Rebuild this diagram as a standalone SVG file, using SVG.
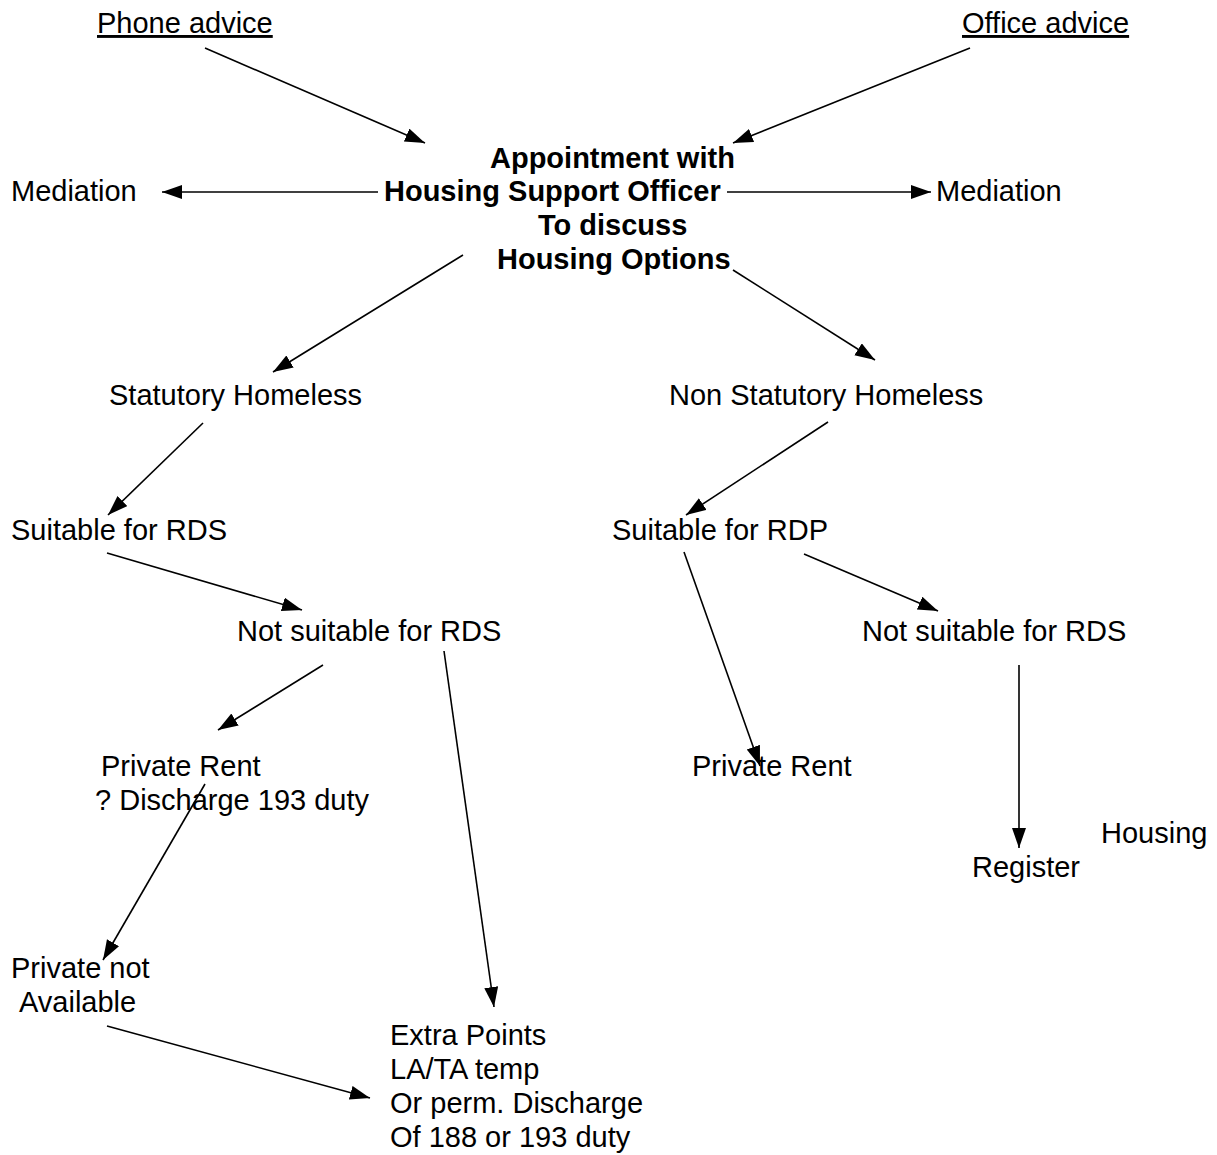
<svg xmlns="http://www.w3.org/2000/svg" width="1217" height="1155" viewBox="0 0 1217 1155">
<defs>
<marker id="ah" markerUnits="userSpaceOnUse" markerWidth="22" markerHeight="16" refX="20" refY="7" orient="auto">
<path d="M0,0 L20,7 L0,14 z" fill="#000"/>
</marker>
<style>
text{font-family:"Liberation Sans",Arial,sans-serif;font-size:29px;fill:#000}
.b{font-weight:bold}
.u{text-decoration:underline}
#connectors line{stroke:#000;stroke-width:1.6;marker-end:url(#ah)}
</style>
</defs>
<rect width="1217" height="1155" fill="#fff"/>
<g id="connectors">
<line x1="205" y1="48" x2="425" y2="143"/>
<line x1="970" y1="48" x2="733" y2="143"/>
<line x1="378" y1="192" x2="162" y2="192"/>
<line x1="727" y1="192" x2="931" y2="192"/>
<line x1="463" y1="255" x2="273" y2="372"/>
<line x1="733" y1="270" x2="875" y2="360"/>
<line x1="203" y1="423" x2="108" y2="515"/>
<line x1="828" y1="422" x2="686" y2="515"/>
<line x1="107" y1="553" x2="302" y2="610"/>
<line x1="804" y1="554" x2="938" y2="611"/>
<line x1="323" y1="665" x2="218" y2="730"/>
<line x1="444" y1="651" x2="494" y2="1007"/>
<line x1="684" y1="552" x2="760" y2="766"/>
<line x1="1019" y1="665" x2="1019" y2="848"/>
<line x1="205" y1="784" x2="103" y2="960"/>
<line x1="107" y1="1026" x2="370" y2="1098"/>
</g>
<g id="phone"><text class="u" x="97" y="33">Phone advice</text></g>
<g id="office"><text class="u" x="962" y="33">Office advice</text></g>
<g id="appointment">
<text class="b" x="490" y="168">Appointment with</text>
<text class="b" x="384" y="201">Housing Support Officer</text>
<text class="b" x="538" y="235">To discuss</text>
<text class="b" x="497" y="269">Housing Options</text>
</g>
<g id="mediation-left"><text x="11" y="201">Mediation</text></g>
<g id="mediation-right"><text x="936" y="201">Mediation</text></g>
<g id="statutory"><text x="109" y="405">Statutory Homeless</text></g>
<g id="non-statutory"><text x="669" y="405">Non Statutory Homeless</text></g>
<g id="suitable-rds"><text x="11" y="540">Suitable for RDS</text></g>
<g id="suitable-rdp"><text x="612" y="540">Suitable for RDP</text></g>
<g id="not-suitable-left"><text x="237" y="641">Not suitable for RDS</text></g>
<g id="not-suitable-right"><text x="862" y="641">Not suitable for RDS</text></g>
<g id="private-rent-left">
<text x="101" y="776">Private Rent</text>
<text x="95" y="810">? Discharge 193 duty</text>
</g>
<g id="private-rent-right"><text x="692" y="776">Private Rent</text></g>
<g id="housing-register">
<text x="1101" y="843">Housing</text>
<text x="972" y="877">Register</text>
</g>
<g id="private-not-available">
<text x="11" y="978">Private not</text>
<text x="19" y="1012">Available</text>
</g>
<g id="extra-points">
<text x="390" y="1045">Extra Points</text>
<text x="390" y="1079">LA/TA temp</text>
<text x="390" y="1113">Or perm. Discharge</text>
<text x="390" y="1147">Of 188 or 193 duty</text>
</g>
</svg>
